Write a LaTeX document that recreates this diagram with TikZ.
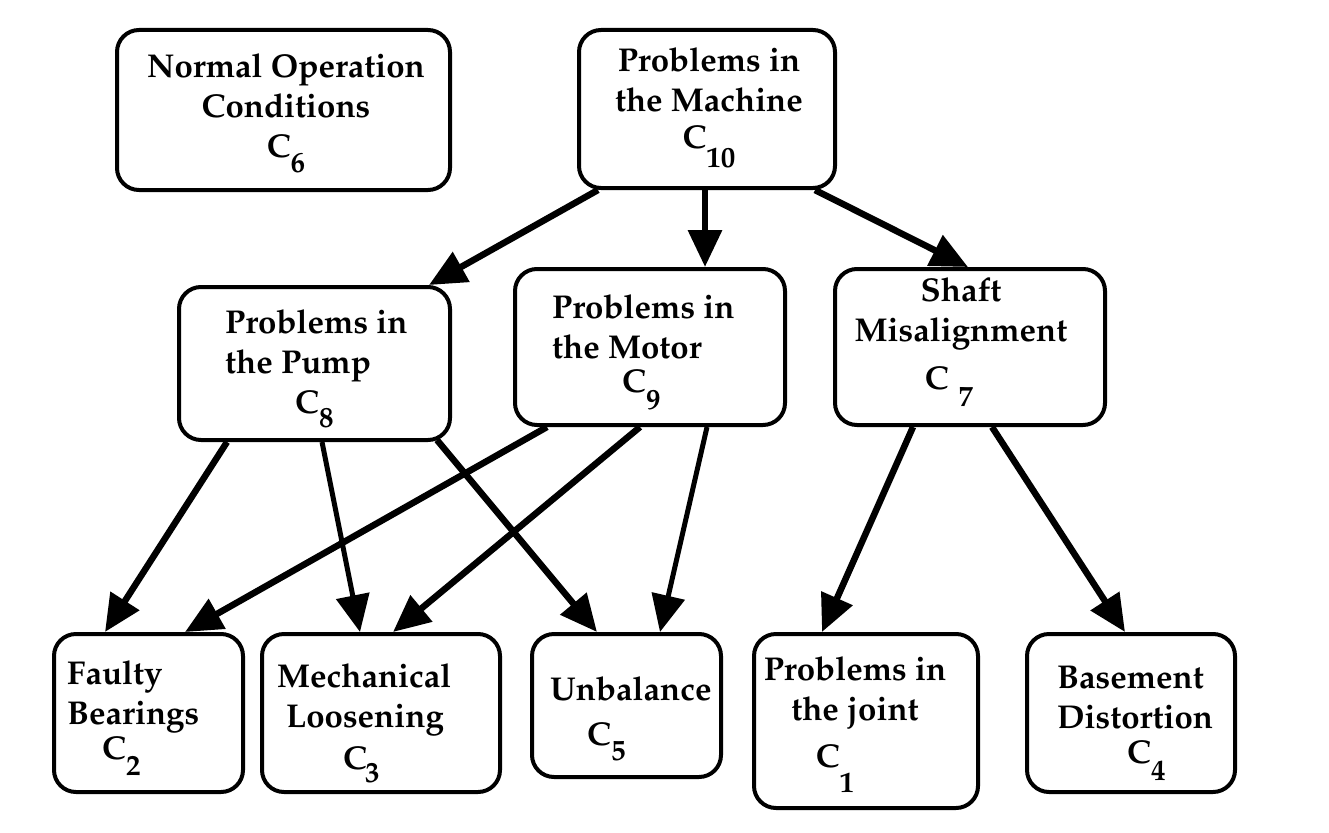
\documentclass[tikz,border=0pt]{standalone}
\usepackage[T1]{fontenc}
\renewcommand{\rmdefault}{ppl}
\usetikzlibrary{arrows.meta}
\newcommand{\subsz}{\fontsize{29}{29}\selectfont}
\newcommand{\csub}[2][-16pt]{C\raisebox{#1}{\subsz #2}}
\begin{document}
\begin{tikzpicture}[x=1pt,y=-1pt,
  box/.style={draw, line width=4pt, rounded corners=22pt, inner sep=0pt},
  txt/.style={inner sep=0pt, font=\fontsize{33}{40}\selectfont\bfseries},
  arr/.style={line width=6.5pt, -{Triangle[length=37pt,width=33pt]}},
  arrthin/.style={line width=5pt, -{Triangle[length=37pt,width=33pt]}}]
\fill[white] (0,0) rectangle (1329,832);
\useasboundingbox (0,0) rectangle (1329,832);
% boxes
\node[box, minimum width=333pt, minimum height=160pt] (c6) at (283.5,110) {};
\node[box, minimum width=256pt, minimum height=158pt] (c10) at (707,109) {};
\node[box, minimum width=271pt, minimum height=153pt] (c8) at (314.5,363.5) {};
\node[box, minimum width=270pt, minimum height=156pt] (c9) at (650,347) {};
\node[box, minimum width=270pt, minimum height=156pt] (c7) at (970,347) {};
\node[box, minimum width=189pt, minimum height=158pt] (c2) at (148.5,713) {};
\node[box, minimum width=238pt, minimum height=158pt] (c3) at (381,713) {};
\node[box, minimum width=189pt, minimum height=143pt] (c5) at (626.5,705.5) {};
\node[box, minimum width=224pt, minimum height=174pt] (c1) at (866,721) {};
\node[box, minimum width=208pt, minimum height=158pt] (c4) at (1131,713) {};
% texts
\node[txt, anchor=north, align=center] (c6t) at (286,53) {Normal Operation\\Conditions\\\csub[-15pt]{6}};
\node[txt, anchor=north, align=center] (c10t) at (709,47) {Problems in\\the Machine\\[-3pt]\csub[-19pt]{10}};
\node[txt, anchor=north west, align=left] (c8t) at (225,309) {Problems in\\the Pump\\\hspace*{70pt}\csub[-14pt]{8}};
\node[txt, anchor=north west, align=left] (c9t) at (552,294) {Problems in\\the Motor\\[-6pt]\hspace*{70pt}\csub[-17pt]{9}};
\node[txt, anchor=north, align=center] (c7t) at (961,277) {Shaft\\Misalignment\\[8pt]\hspace*{-24pt}C\hspace{10pt}\raisebox{-17pt}{\subsz 7}};
\node[txt, anchor=north west, align=left] (c2t) at (67,660) {Faulty\\Bearings\\[-5pt]\hspace*{35pt}\csub{2}};
\node[txt, anchor=north west, align=left] (c3t) at (277,663) {Mechanical\\\hspace*{9pt}Loosening\\[2pt]\hspace*{66pt}C\kern-2pt\raisebox{-13pt}{\subsz 3}};
\node[txt, anchor=north west, align=left] (c5t) at (550,676) {Unbalance\\[5pt]\hspace*{37pt}\csub[-15pt]{5}};
\node[txt, anchor=north, align=center] (c1t) at (855,656) {Problems in\\the joint\\[7pt]\hspace*{-40pt}\csub[-25pt]{1}};
\node[txt, anchor=north west, align=left] (c4t) at (1057,666) {Basement\\Distortion\\[-5pt]\hspace*{70pt}\csub[-17pt]{4}};
% arrows
\draw[arr] ([xshift=-109pt]c10.south) -- ([xshift=114.5pt]c8.north);
\draw[arr] ([xshift=-2pt]c10.south) -- ([xshift=55pt]c9.north);
\draw[arr] ([xshift=108pt]c10.south) -- ([xshift=-2pt]c7.north);
\draw[arr] ([xshift=-87.5pt]c8.south) -- ([xshift=-43.5pt]c2.north);
\draw[arrthin] ([xshift=7.5pt]c8.south) -- ([xshift=-21pt]c3.north);
\draw[arr] ([xshift=122.5pt,yshift=2pt]c8.south) -- ([xshift=-29.5pt]c5.north);
\draw[arr] ([xshift=-103pt]c9.south) -- ([xshift=36.5pt]c2.north);
\draw[arr] ([xshift=-10pt]c9.south) -- ([xshift=12pt]c3.north);
\draw[arrthin] ([xshift=57pt]c9.south) -- ([xshift=33.5pt]c5.north);
\draw[arr] ([xshift=-57pt]c7.south) -- ([xshift=-44pt]c1.north);
\draw[arr] ([xshift=22pt]c7.south) -- ([xshift=-6pt]c4.north);
\end{tikzpicture}
\end{document}
